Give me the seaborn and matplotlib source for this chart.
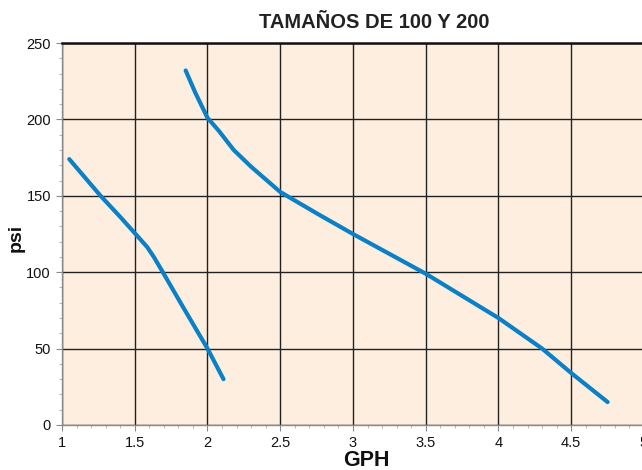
import matplotlib
matplotlib.use("Agg")
import matplotlib.pyplot as plt
from matplotlib.ticker import MultipleLocator
import seaborn as sns
import pandas as pd

title = "TAMAÑOS DE 100 Y 200"
x_label = "GPH"
y_label = "psi"

curve1_x = [1.05, 1.265, 1.402, 1.5, 1.585, 1.631, 1.693, 1.83, 2.0, 2.11]
curve1_y = [174, 150, 136, 125.6, 116.5, 110, 100, 77.5, 50, 30]

curve2_x = [1.85, 1.916, 2.0, 2.078, 2.18, 2.30, 2.5, 2.76, 3.0, 3.5, 4.0, 4.3, 4.5, 4.75]
curve2_y = [232, 217.5, 201, 192.5, 180, 169, 152.5, 138, 125, 99, 70, 50, 34, 15]

x_ticks = [1, 1.5, 2, 2.5, 3, 3.5, 4, 4.5, 5]
x_tick_labels = ["1", "1.5", "2", "2.5", "3", "3.5", "4", "4.5", "5"]
y_ticks = [0, 50, 100, 150, 200, 250]

df = pd.concat([
    pd.DataFrame({"GPH": curve1_x, "psi": curve1_y, "curve": "c1"}),
    pd.DataFrame({"GPH": curve2_x, "psi": curve2_y, "curve": "c2"}),
], ignore_index=True)

sns.set_theme(style="white")
plt.rcParams["font.family"] = ["Liberation Sans", "DejaVu Sans"]

fig = plt.figure(figsize=(6.42, 4.70), dpi=100)
ax = fig.add_axes([62 / 642, 45 / 470, 582 / 642, 382 / 470])
ax.set_facecolor("#fdeee0")

line_color = "#0a80c6"
sns.lineplot(data=df, x="GPH", y="psi", hue="curve", units="curve", estimator=None,
             sort=False, palette=[line_color, line_color], linewidth=3.0,
             legend=False, ax=ax, solid_capstyle="round", solid_joinstyle="round",
             zorder=3)

ax.set_xlim(1, 5)
ax.set_ylim(0, 250)
ax.set_xticks(x_ticks)
ax.set_xticklabels(x_tick_labels)
ax.set_yticks(y_ticks)
ax.xaxis.set_minor_locator(MultipleLocator(0.1))
ax.yaxis.set_minor_locator(MultipleLocator(10))

ax.grid(True, which="major", color="#222222", linewidth=1.0)
ax.set_axisbelow(True)

for side in ["left", "bottom"]:
    ax.spines[side].set_color("#8a8a8a")
    ax.spines[side].set_linewidth(1.0)
ax.spines["top"].set_color("#111111")
ax.spines["top"].set_linewidth(1.8)
ax.spines["right"].set_visible(False)

ax.tick_params(axis="both", which="major", direction="out", length=4, width=0.8,
               color="#8a8a8a", labelsize=10.5, labelcolor="#111111", pad=4,
               left=True, bottom=True)
ax.tick_params(axis="both", which="minor", direction="out", length=2.5, width=0.6,
               color="#aaaaaa", left=True, bottom=True)

ax.set_xlabel("")
ax.set_ylabel("")
fig.text(366 / 642, 1 - 461 / 470, x_label, ha="center", va="center",
         fontsize=15.5, fontweight="bold", color="#111111")
fig.text(16 / 642, 1 - 238 / 470, y_label, ha="center", va="center",
         fontsize=14, fontweight="bold", rotation=90, color="#111111")
fig.text(374 / 642, 1 - 22 / 470, title, ha="center", va="center",
         fontsize=14.5, fontweight="bold", color="#222222")

fig.savefig("out.png", dpi=100)
